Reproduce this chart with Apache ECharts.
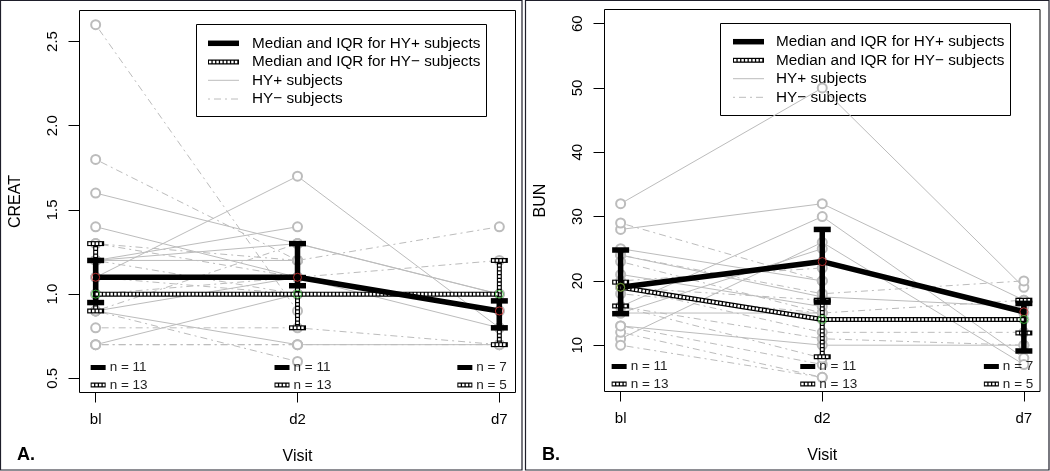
<!DOCTYPE html>
<html><head><meta charset="utf-8">
<script src="https://cdn.jsdelivr.net/npm/echarts@6/dist/echarts.min.js"></script>
<style>html,body{margin:0;padding:0;background:#fff;}#c{width:1050px;height:471px;}</style>
</head><body><div id="c"></div>
<script>
// ---------- data ----------
const visits = [1, 2, 3];
const visitLabels = ['bl', 'd2', 'd7'];
const creatTicks = [0.5, 1.0, 1.5, 2.0, 2.5];
const bunTicks = [10, 20, 30, 40, 50, 60];

// CREAT, individual subjects (bl, d2, d7)
const creatHYplusBl = [1.1, 0.7, 1.6, 1.4, 1.2, 1.2, 0.9, 1.2, 1.1, 1.0, 0.9];
const creatHYplusD2 = [1.7, 1.0, 1.3, 1.1, 1.4, 1.3, 0.7, 1.2, 1.1, 1.0, 1.1];
const creatHYplusD7 = [0.8, null, 1.0, 0.9, null, 1.0, 0.7, null, 0.9, null, 0.8];
const creatHYminusBl = [2.6, 1.8, 1.3, 1.3, 0.8, 0.7, 0.9, 1.2, 1.1, 1.0, 1.0, 0.9, 0.7];
const creatHYminusD2 = [0.9, 1.2, 1.1, 1.2, 0.8, 0.7, 0.6, 1.0, 1.0, 1.1, 1.0, 1.3, 0.7];
const creatHYminusD7 = [null, 1.4, 1.2, null, 0.7, 0.7, null, 1.0, null, null, null, null, null];
// CREAT medians and IQR
const creatHYplusMed = [1.1, 1.1, 0.9];
const creatHYplusQ1 = [0.95, 1.05, 0.8];
const creatHYplusQ3 = [1.2, 1.3, 0.96];
const creatHYminusMed = [1.0, 1.0, 1.0];
const creatHYminusQ1 = [0.9, 0.8, 0.7];
const creatHYminusQ3 = [1.3, 1.1, 1.2];

// BUN, individual subjects
const bunHYplusBl = [32, 28, 16, 11, 15, 25, 24, 21, 19, 13, 15];
const bunHYplusD2 = [50, 32, 30, 26, 25, 20, 17.5, 16, 23, 10, 15];
const bunHYplusD7 = [19, 17, 8, 7, null, null, 16, null, 15, 10, null];
const bunHYminusBl = [24, 29, 23, 19, 19, 16, 10, 12, 13, 16, 18, 19, 20];
const bunHYminusD2 = [18, 20, 15, 14, 12, 11, 5, 5, 7, 8, 15, 17, 22];
const bunHYminusD7 = [20, null, 17, 14, 12, 10, null, null, null, null, null, null, null];
// BUN medians and IQR
const bunHYplusMed = [19, 23, 15.2];
const bunHYplusQ1 = [14.9, 16.7, 9.1];
const bunHYplusQ3 = [24.8, 28, 16.5];
const bunHYminusMed = [19, 14, 14];
const bunHYminusQ1 = [16.1, 8.2, 11.9];
const bunHYminusQ3 = [19.8, 17, 17];

// subject counts
const nHYplus = [11, 11, 7];
const nHYminus = [13, 13, 5];

const legendLabels = ['Median and IQR for HY+ subjects', 'Median and IQR for HY\u2212 subjects', 'HY+ subjects', 'HY\u2212 subjects'];

// ---------- styling / helpers ----------
const FONT = '"Liberation Sans", Arial, Helvetica, sans-serif';
const GRAY = '#bcbcbc';
const DOTDASH = [2, 4, 7, 4];
const HATCH = [2.4, 1.3];

function subjectSeries(bl, d2, d7, gi, dashed) {
  return bl.map((_, i) => ({
    type: 'line', xAxisIndex: gi, yAxisIndex: gi, silent: true, z: 2,
    data: [[visits[0], bl[i]], [visits[1], d2[i]], [visits[2], d7[i]]].filter(p => p[1] != null),
    symbol: 'emptyCircle', symbolSize: 9,
    lineStyle: { color: GRAY, width: 1, type: dashed ? DOTDASH : 'solid' },
    itemStyle: { color: GRAY, borderWidth: 1 }
  }));
}

function errorBars(hatched) {
  return function (params, api) {
    const x = api.value(0);
    const top = api.coord([x, api.value(3)]);
    const bot = api.coord([x, api.value(2)]);
    const cap = 8.5;
    const segs = [
      [top[0], top[1], bot[0], bot[1], 0],
      [top[0] - cap, top[1], top[0] + cap, top[1], 1],
      [bot[0] - cap, bot[1], bot[0] + cap, bot[1], 1]
    ];
    const children = [];
    segs.forEach(s => {
      children.push({ type: 'line', shape: { x1: s[0], y1: s[1], x2: s[2], y2: s[3] },
        style: { stroke: '#000', lineWidth: hatched ? 5 : 5.5, lineCap: 'butt' } });
      if (hatched) {
        const ins = s[4] ? 1.2 : 0;
        children.push({ type: 'line', shape: { x1: s[0] + ins, y1: s[1], x2: s[2] - ins, y2: s[3] },
          style: { stroke: '#fff', lineWidth: 2.6, lineDash: HATCH, lineCap: 'butt' } });
      }
    });
    return { type: 'group', children };
  };
}

function nLabels(offsets) {
  return function (params, api) {
    const i = params.dataIndex;
    const cs = params.coordSys;
    const x = api.coord([api.value(0), api.value(1)])[0];
    const bottom = cs.y + cs.height;
    const left = x + offsets[i];
    const y1 = bottom - 25, y2 = bottom - 7.5;
    const mw = 15;
    const ts = { fill: '#222', fontSize: 13.5, fontFamily: FONT, verticalAlign: 'middle', align: 'left' };
    return { type: 'group', children: [
      { type: 'rect', shape: { x: left, y: y1 - 2.5, width: mw, height: 5 }, style: { fill: '#000' } },
      { type: 'text', style: Object.assign({ text: 'n = ' + api.value(1), x: left + mw + 4, y: y1 }, ts) },
      { type: 'rect', shape: { x: left, y: y2 - 2.5, width: mw, height: 5 }, style: { fill: '#000' } },
      { type: 'line', shape: { x1: left + 1, y1: y2, x2: left + mw - 1, y2: y2 }, style: { stroke: '#fff', lineWidth: 2.4, lineDash: HATCH } },
      { type: 'text', style: Object.assign({ text: 'n = ' + api.value(2), x: left + mw + 4, y: y2 }, ts) }
    ] };
  };
}

function panelSeries(gi, d, offsets) {
  const s = [];
  s.push(...subjectSeries(d.pBl, d.pD2, d.pD7, gi, false));
  s.push(...subjectSeries(d.mBl, d.mD2, d.mD7, gi, true));
  const medPts = (m) => visits.map((v, i) => [v, m[i]]);
  s.push({ type: 'scatter', xAxisIndex: gi, yAxisIndex: gi, silent: true, z: 3, data: medPts(d.pMed),
    symbol: 'circle', symbolSize: 8, itemStyle: { color: 'rgba(0,0,0,0)', borderColor: '#e23a3a', borderWidth: 1 } });
  s.push({ type: 'scatter', xAxisIndex: gi, yAxisIndex: gi, silent: true, z: 3, data: medPts(d.mMed),
    symbol: 'circle', symbolSize: 8, itemStyle: { color: 'rgba(0,0,0,0)', borderColor: '#3ac43a', borderWidth: 1 } });
  s.push({ type: 'line', xAxisIndex: gi, yAxisIndex: gi, silent: true, z: 3, data: medPts(d.mMed), showSymbol: false,
    lineStyle: { color: '#000', width: 5 } });
  s.push({ type: 'line', xAxisIndex: gi, yAxisIndex: gi, silent: true, z: 3, data: medPts(d.mMed), showSymbol: false,
    lineStyle: { color: '#fff', width: 2.6, type: HATCH } });
  s.push({ type: 'custom', xAxisIndex: gi, yAxisIndex: gi, silent: true, z: 3,
    data: visits.map((v, i) => [v, d.mMed[i], d.mQ1[i], d.mQ3[i]]), encode: { x: 0, y: 1 }, renderItem: errorBars(true) });
  s.push({ type: 'line', xAxisIndex: gi, yAxisIndex: gi, silent: true, z: 3, data: medPts(d.pMed), showSymbol: false,
    lineStyle: { color: '#000', width: 5.5 } });
  s.push({ type: 'custom', xAxisIndex: gi, yAxisIndex: gi, silent: true, z: 3,
    data: visits.map((v, i) => [v, d.pMed[i], d.pQ1[i], d.pQ3[i]]), encode: { x: 0, y: 1 }, renderItem: errorBars(false) });
  s.push({ type: 'custom', xAxisIndex: gi, yAxisIndex: gi, silent: true, z: 4,
    data: visits.map((v, i) => [v, nHYplus[i], nHYminus[i]]), encode: { x: 0, y: 1 }, renderItem: nLabels(offsets) });
  return s;
}

function xAxisCfg(gi) {
  return { gridIndex: gi, type: 'value', min: 0.92, max: 3.08,
    axisLine: { show: false }, splitLine: { show: false },
    axisTick: { show: true, customValues: visits, length: 10, lineStyle: { color: '#000', width: 1 } },
    axisLabel: { customValues: visits, formatter: v => visitLabels[visits.indexOf(v)], margin: 20, fontSize: 15, color: '#000', fontFamily: FONT },
    name: 'Visit', nameLocation: 'middle', nameGap: 56, nameTextStyle: { fontSize: 16, color: '#000', fontFamily: FONT } };
}
function yAxisCfg(gi, min, max, ticks, name, dec) {
  return { gridIndex: gi, type: 'value', min, max,
    axisLine: { show: false }, splitLine: { show: false },
    axisTick: { show: true, customValues: ticks, length: 11, lineStyle: { color: '#000', width: 1 } },
    axisLabel: { customValues: ticks, rotate: 90, formatter: v => v.toFixed(dec), margin: 19, fontSize: 15, color: '#000', fontFamily: FONT },
    name, nameLocation: 'middle', nameGap: 56, nameTextStyle: { fontSize: 16, color: '#000', fontFamily: FONT } };
}

function legendGraphic(bx, by, sx, tx, rows) {
  const ts = { fill: '#000', fontSize: 15.3, fontFamily: FONT, verticalAlign: 'middle', align: 'left' };
  const ch = [
    { type: 'rect', shape: { x: bx, y: by, width: 290, height: 92 }, style: { fill: 'none', stroke: '#000', lineWidth: 1 } },
    { type: 'line', shape: { x1: sx, y1: rows[0], x2: sx + 31, y2: rows[0] }, style: { stroke: '#000', lineWidth: 5.5 } },
    { type: 'line', shape: { x1: sx, y1: rows[1], x2: sx + 31, y2: rows[1] }, style: { stroke: '#000', lineWidth: 5 } },
    { type: 'line', shape: { x1: sx + 1, y1: rows[1], x2: sx + 30, y2: rows[1] }, style: { stroke: '#fff', lineWidth: 2.6, lineDash: HATCH } },
    { type: 'line', shape: { x1: sx, y1: rows[2], x2: sx + 31, y2: rows[2] }, style: { stroke: GRAY, lineWidth: 1 } },
    { type: 'line', shape: { x1: sx, y1: rows[3], x2: sx + 31, y2: rows[3] }, style: { stroke: GRAY, lineWidth: 1, lineDash: DOTDASH } }
  ];
  legendLabels.forEach((t, i) => ch.push({ type: 'text', style: Object.assign({ text: t, x: tx, y: rows[i] }, ts) }));
  return { type: 'group', silent: true, children: ch };
}

const chart = echarts.init(document.getElementById('c'), null, { renderer: 'canvas' });
const option = {
  animation: false,
  backgroundColor: '#fff',
  textStyle: { fontFamily: FONT },
  grid: [
    { left: 79.5, top: 10.5, width: 436, height: 382, show: true, borderColor: '#000', borderWidth: 1, backgroundColor: 'transparent' },
    { left: 604.5, top: 9.5, width: 435.5, height: 382, show: true, borderColor: '#000', borderWidth: 1, backgroundColor: 'transparent' }
  ],
  xAxis: [xAxisCfg(0), xAxisCfg(1)],
  yAxis: [
    yAxisCfg(0, 0.416, 2.684, creatTicks, 'CREAT', 1),
    yAxisCfg(1, 2.8, 62.2, bunTicks, 'BUN', 0)
  ],
  series: [].concat(
    panelSeries(0, { pBl: creatHYplusBl, pD2: creatHYplusD2, pD7: creatHYplusD7,
      mBl: creatHYminusBl, mD2: creatHYminusD2, mD7: creatHYminusD7,
      pMed: creatHYplusMed, pQ1: creatHYplusQ1, pQ3: creatHYplusQ3,
      mMed: creatHYminusMed, mQ1: creatHYminusQ1, mQ3: creatHYminusQ3 }, [-5, -23, -42]),
    panelSeries(1, { pBl: bunHYplusBl, pD2: bunHYplusD2, pD7: bunHYplusD7,
      mBl: bunHYminusBl, mD2: bunHYminusD2, mD7: bunHYminusD7,
      pMed: bunHYplusMed, pQ1: bunHYplusQ1, pQ3: bunHYplusQ3,
      mMed: bunHYminusMed, mQ1: bunHYminusQ1, mQ3: bunHYminusQ3 }, [-9, -22, -40])
  ),
  graphic: [
    legendGraphic(196.5, 24.5, 208, 252, [43.3, 62, 80.3, 99]),
    legendGraphic(720.5, 23.5, 733, 776, [41.7, 60.3, 78.7, 97.3]),
    { type: 'rect', silent: true, shape: { x: 0.5, y: 0.5, width: 521.5, height: 469.5 }, style: { fill: 'none', stroke: '#1e1e2a', lineWidth: 1.2 } },
    { type: 'rect', silent: true, shape: { x: 525.5, y: 0.5, width: 523.5, height: 469.5 }, style: { fill: 'none', stroke: '#1e1e2a', lineWidth: 1.2 } },
    { type: 'text', silent: true, style: { text: 'A.', x: 17, y: 455, verticalAlign: 'middle', fill: '#000', font: 'bold 18px ' + FONT } },
    { type: 'text', silent: true, style: { text: 'B.', x: 542, y: 455, verticalAlign: 'middle', fill: '#000', font: 'bold 18px ' + FONT } }
  ]
};
chart.setOption(option);
</script></body></html>
